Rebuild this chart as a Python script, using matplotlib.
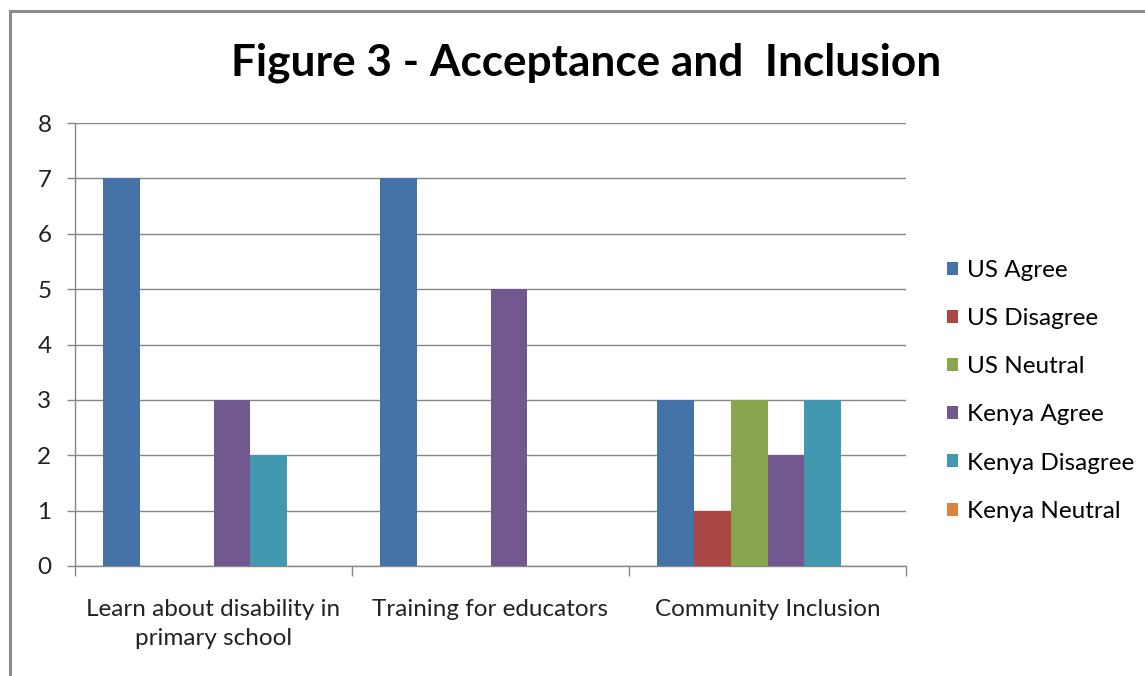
import matplotlib
matplotlib.use("Agg")
import matplotlib.pyplot as plt
from matplotlib.lines import Line2D
import numpy as np

plt.rcParams['font.family'] = ['Lato', 'DejaVu Sans']

categories = ["Learn about disability in\nprimary school", "Training for educators", "Community Inclusion"]
series_names = ["US Agree", "US Disagree", "US Neutral", "Kenya Agree", "Kenya Disagree", "Kenya Neutral"]
us_agree = [7, 7, 3]
us_disagree = [0, 0, 1]
us_neutral = [0, 0, 3]
kenya_agree = [3, 5, 2]
kenya_disagree = [2, 0, 3]
kenya_neutral = [0, 0, 0]
series_values = [us_agree, us_disagree, us_neutral, kenya_agree, kenya_disagree, kenya_neutral]
colors = ["#4572A7", "#AA4643", "#89A54E", "#71588F", "#4198AF", "#DB843D"]

W, H = 1145, 676
fig = plt.figure(figsize=(W/100, H/100), dpi=100)
ax = fig.add_axes([75/W, 1-566/H, (906-75)/W, (566-123)/H])

x = np.arange(len(categories))
bw = 1/7.5
for i, (name, vals, c) in enumerate(zip(series_names, series_values, colors)):
    ax.bar(x + (i-2.5)*bw, vals, width=bw, color=c, label=name, zorder=3)

FS = 17.5
ax.set_xlim(-0.5, 2.5)
ax.set_ylim(0, 8)
ax.set_yticks(range(0, 9))
ax.yaxis.grid(True, color="#868686", linewidth=1, zorder=0)
ax.set_xticks([-0.5, 0.5, 1.5, 2.5])
ax.set_xticklabels([])
ax.set_xticks(x, minor=True)
ax.set_xticklabels(categories, minor=True, fontsize=FS, color="#222222", linespacing=1.46)
ax.tick_params(axis='x', which='major', length=7, color="#868686", width=1, direction='out')
ax.tick_params(axis='x', which='minor', length=0, pad=24)
ax.tick_params(axis='y', length=6, color="#868686", width=1, labelsize=FS, labelcolor="#222222", pad=11)
ax.spines['right'].set_visible(False)
ax.spines['top'].set_visible(False)
for s in ['left', 'bottom']:
    ax.spines[s].set_color("#868686")
    ax.spines[s].set_linewidth(1)

fig.text(586/W, 1-63/H, "Figure 3 - Acceptance and  Inclusion", ha='center', va='center',
         fontsize=31.8, fontweight='bold', color='black')

leg = fig.legend(loc='upper left', bbox_to_anchor=(937/W, 1-250/H), frameon=False,
                 fontsize=FS, handlelength=0.45, handleheight=0.45, handletextpad=0.4,
                 labelspacing=1.12, borderaxespad=0)

fig.add_artist(Line2D([10/W, 10/W], [0, 1-11/H], color="#8c8c8c", linewidth=2.2, transform=fig.transFigure))
fig.add_artist(Line2D([10/W, 1], [1-11/H, 1-11/H], color="#8c8c8c", linewidth=2.2, transform=fig.transFigure))

fig.savefig("out.png", dpi=100)
